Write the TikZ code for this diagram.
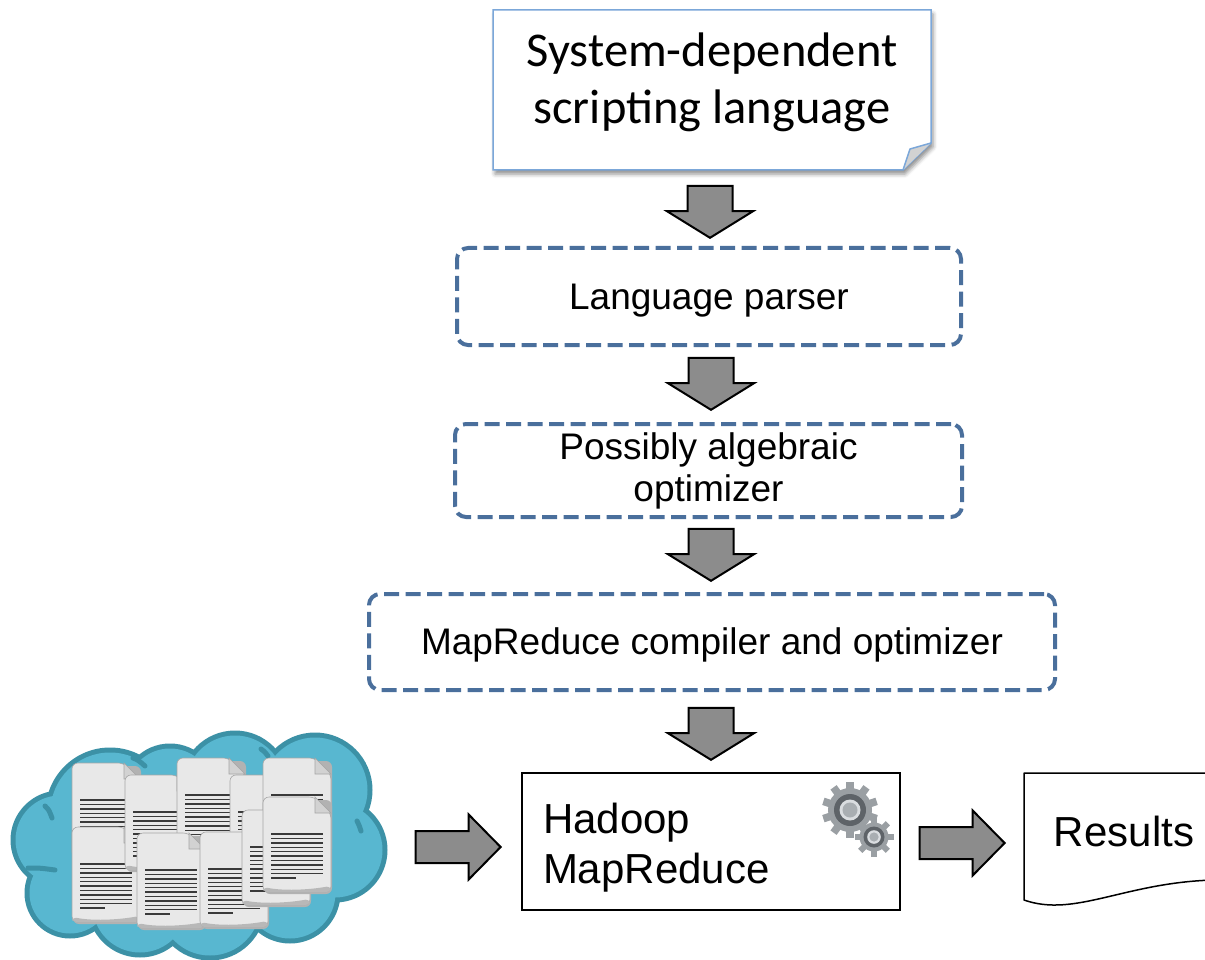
\documentclass[tikz,border=0pt]{standalone}
\usepackage{fontspec}
\setmainfont{Liberation Sans}
\newfontfamily\calibfont{Carlito}
\usetikzlibrary{shapes.arrows,shadows.blur}

\definecolor{boxblue}{HTML}{7BA7D9}
\definecolor{dashblue}{HTML}{4A6F9C}
\definecolor{arrowgray}{HTML}{8C8C8C}
\definecolor{cloudfill}{HTML}{58B7D0}
\definecolor{cloudline}{HTML}{3C91A6}
\definecolor{paper}{HTML}{E8E8E8}
\definecolor{paperedge}{HTML}{A6A6A6}
\definecolor{paperfold}{HTML}{D2D2D2}
\definecolor{inkline}{HTML}{3A3A3A}
\definecolor{gearbody}{HTML}{9A9FA3}
\definecolor{gearring}{HTML}{5E6368}
\definecolor{gearshine}{HTML}{DADDE0}
\definecolor{gearhole}{HTML}{A9AEB2}

\tikzset{
  stage/.style={draw=dashblue, line width=4pt, dash pattern=on 15pt off 6.5pt,
    rounded corners=11pt, font=\fontsize{37}{42}\selectfont, align=center, inner sep=0pt,
    execute at begin node={\rule{0pt}{0.905em}}},
  downarrow/.style={single arrow, draw=black, fill=arrowgray, line width=2pt,
    shape border rotate=270, minimum height=52pt, inner xsep=21.5pt, inner ysep=0pt,
    text width=0pt, text height=0pt, text depth=0pt, anchor=tip,
    single arrow head extend=20.5pt, single arrow tip angle=116.5},
  rightarrow/.style={single arrow, draw=black, fill=arrowgray, line width=2pt,
    minimum height=85pt, inner xsep=0pt, inner ysep=15pt, anchor=tip,
    text width=0pt, text height=0pt, text depth=0pt,
    single arrow head extend=16.5pt, single arrow tip angle=91},
  ink/.style={draw=inkline, line width=1.4pt}
}

% a sheet of paper with a folded corner and lines of text; #1,#2 = top left
\newcommand\paperdoc[2]{%
  \begin{scope}[shift={(#1,#2)}]
    \fill[gray!60, rounded corners=6pt] (1,3) rectangle (69,97);
    \path[fill=paper, draw=paperedge, line width=0.6pt, rounded corners=6pt]
      (0,95) -- (0,0) -- (52,0) -- (68,16) -- (68,95) -- cycle;
    \fill[paperedge!80, rounded corners=4pt] (0.4,95) -- (0.4,90) .. controls (20,94) and (45,93) .. (67.6,89) -- (67.6,95) -- cycle;
    \path[fill=paperfold, draw=paperedge, line width=0.6pt] (52,0) -- (52,16) -- (68,16) -- cycle;
    \foreach \k in {0,...,9} {\draw[ink] (8,{37+4.4*\k}) -- (60,{37+4.4*\k});}
    \draw[ink] (8,81) -- (33,81);
  \end{scope}}

% a toothed gear wheel: centre x, centre y, body radius, tooth reach, teeth, tooth half width
\newcommand\gearwheel[6]{%
  \fill[gearbody] (#1,#2) circle (#3);
  \foreach \k in {1,...,#5} {
    \fill[gearbody, rotate around={360/#5*\k:(#1,#2)}] ({#1-#6},{#2}) rectangle ({#1+#6},{#2-#4});
  }}

\begin{document}
\begin{tikzpicture}[x=1pt, y=-1pt]
\useasboundingbox (0,0) rectangle (1205,960);

% ---- scripting language note with a folded corner ----
\path[fill=white, draw=boxblue, line width=1.5pt,
      blur shadow={shadow xshift=2pt, shadow yshift=-4pt, shadow blur radius=4pt, shadow opacity=45}]
  (493,10) -- (931,10) -- (931,143) -- (903,170) -- (493,170) -- cycle;
\path[fill=gray!35, draw=boxblue, line width=1.5pt, line join=round]
  (903,170) -- (910,149) -- (931,143);
\node[font=\calibfont\fontsize{48.5}{57}\selectfont, align=center] (script) at (712,82)
  {System-dependent\\scripting language};

% ---- processing stages ----
\node[stage, minimum width=504pt, minimum height=97pt] (parser) at (709,296.5) {Language parser};
\node[stage, minimum width=507pt, minimum height=93pt] (optim) at (708.5,470.5) {Possibly algebraic\\optimizer};
\node[stage, minimum width=686pt, minimum height=96pt] (compiler) at (712,642) {MapReduce compiler and optimizer};

% ---- Hadoop engine ----
\node[draw=black, line width=2pt, minimum width=378pt, minimum height=137pt, text width=336pt,
      inner xsep=21pt, align=left, font=\fontsize{42}{50}\selectfont,
      execute at begin node={\rule{0pt}{1.0em}}] (hadoop) at (711,841.5)
  {Hadoop\\MapReduce};
\gearwheel{850}{810}{22}{28}{10}{3.8}
\fill[gearring] (850,810) circle (16);
\fill[gearshine] (850,810) circle (10.5);
\fill[gearhole] (850,810) circle (7.5);
\gearwheel{874}{837}{14.5}{19.5}{8}{3}
\fill[gearring] (874,837) circle (10.5);
\fill[gearshine] (874,837) circle (6.8);
\fill[gearhole] (874,837) circle (4.6);

% ---- results document ----
\draw[line width=1.5pt, line join=round] (1215,773) -- (1024,773) -- (1024,900)
  .. controls (1075,918) and (1125,882) .. (1215,880);
\node[font=\fontsize{42}{50}\selectfont] (results) at (1124,831) {Results};

% ---- input data: cloud of documents ----
\foreach \cx/\cy/\r in {110/812/62, 60/840/47, 70/893/43, 140/905/50, 210/905/53,
                        290/893/48, 335/850/50, 315/790/55, 235/785/52, 170/792/46, 200/850/80}
  {\fill[cloudline] (\cx,\cy) circle (\r+2.5);}
\foreach \cx/\cy/\r in {110/812/62, 60/840/47, 70/893/43, 140/905/50, 210/905/53,
                        290/893/48, 335/850/50, 315/790/55, 235/785/52, 170/792/46, 200/850/80}
  {\fill[cloudfill] (\cx,\cy) circle (\r-2.5);}
\begin{scope}[draw=cloudline, line width=5pt, line cap=round]
  \draw (133,758) .. controls (138,760) .. (145,766);
  \draw (45,806) .. controls (49,810) .. (52,818);
  \draw (28,868) .. controls (40,868) .. (55,870);
  \draw (261,749) .. controls (264,751) .. (268,756);
  \draw (357,821) .. controls (359,825) .. (361,831);
\end{scope}
\coordinate (data) at (200,845);
\paperdoc{72}{763}
\paperdoc{72}{827}
\paperdoc{125}{775}
\paperdoc{177}{758}
\paperdoc{230}{775}
\paperdoc{263}{758}
\paperdoc{137}{833}
\paperdoc{200}{832}
\paperdoc{242}{810}
\paperdoc{263}{797}

% ---- flow arrows ----
\node[downarrow] (a1) at (710,239) {};
\node[downarrow] (a2) at (711,411) {};
\node[downarrow] (a3) at (711,582) {};
\node[downarrow] (a4) at (711,761) {};
\node[rightarrow] (a5) at (502,847) {};
\node[rightarrow] (a6) at (1006,843) {};
\end{tikzpicture}
\end{document}
